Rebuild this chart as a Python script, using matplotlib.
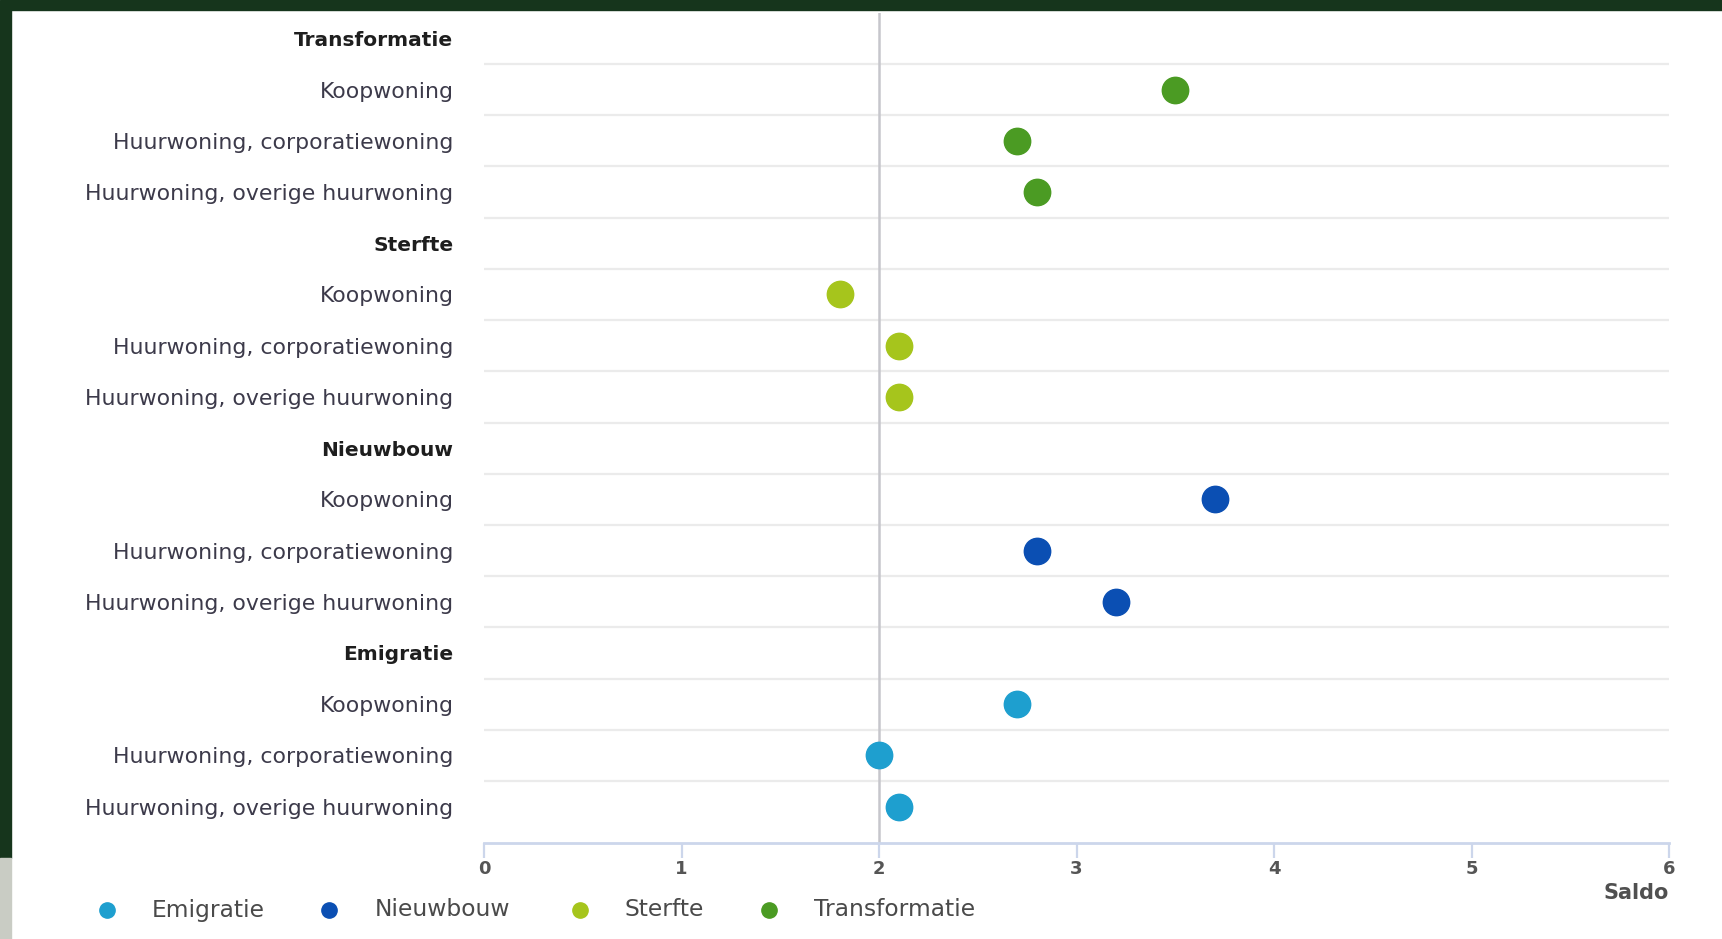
import matplotlib
matplotlib.use("Agg")
import matplotlib.pyplot as plt
from matplotlib.patches import Rectangle
from matplotlib.lines import Line2D

# ── Data ─────────────────────────────────────────────────────────────
groups = ["Transformatie", "Sterfte", "Nieuwbouw", "Emigratie"]
subtypes = ["Koopwoning", "Huurwoning, corporatiewoning", "Huurwoning, overige huurwoning"]
saldo_transformatie = [3.5, 2.7, 2.8]
saldo_sterfte = [1.8, 2.1, 2.1]
saldo_nieuwbouw = [3.7, 2.8, 3.2]
saldo_emigratie = [2.7, 2.0, 2.1]
x_ticks = [0, 1, 2, 3, 4, 5, 6]
legend_order = ["Emigratie", "Nieuwbouw", "Sterfte", "Transformatie"]

colors = {
    "Emigratie": "#1e9fcf",
    "Nieuwbouw": "#0b4fb3",
    "Sterfte": "#a6c51c",
    "Transformatie": "#4b9b23",
}
values = {
    "Transformatie": saldo_transformatie,
    "Sterfte": saldo_sterfte,
    "Nieuwbouw": saldo_nieuwbouw,
    "Emigratie": saldo_emigratie,
}

W, H = 1722, 939
fig = plt.figure(figsize=(W / 100, H / 100), dpi=100, facecolor="white")

# dark frame of the screenshot
fig.patches.append(Rectangle((0, 1 - 10 / H), 1, 10 / H, transform=fig.transFigure,
                             color="#16351c", zorder=0))
fig.patches.append(Rectangle((0, 1 - 858 / H), 11 / W, 848 / H, transform=fig.transFigure,
                             color="#16351c", zorder=0))
fig.patches.append(Rectangle((0, 0), 11 / W, 1 - 858 / H, transform=fig.transFigure,
                             color="#c9ccc4", zorder=0))

ax = fig.add_axes([484 / W, 1 - 843 / H, (1669 - 484) / W, (843 - 12.8) / H])
ax.set_facecolor("none")

# build rows: header then three subtypes per group
row_labels, row_bold = [], []
for g in groups:
    row_labels.append(g)
    row_bold.append(True)
    for s in subtypes:
        row_labels.append(s)
        row_bold.append(False)

n_rows = len(row_labels)
ax.set_ylim(15.71, -0.5)
ax.set_xlim(0, 6)

# grid lines between rows
for i in range(n_rows - 1):
    ax.axhline(i + 0.5, color="#ebebeb", lw=1.6, zorder=1)
ax.axvline(2, color="#c6c6cc", lw=1.8, zorder=1)

# points
for gi, g in enumerate(groups):
    base = gi * 4
    for si, v in enumerate(values[g]):
        ax.plot(v, base + 1 + si, "o", ms=19, color=colors[g],
                markeredgecolor=colors[g], zorder=3, clip_on=False)

# y labels
ax.set_yticks(range(n_rows))
ax.set_yticklabels(row_labels)
for lab, bold in zip(ax.get_yticklabels(), row_bold):
    if bold:
        lab.set_fontsize(14.5)
        lab.set_fontweight("bold")
        lab.set_color("#1e1e1e")
    else:
        lab.set_fontsize(15.8)
        lab.set_color("#3c3a4a")
ax.tick_params(axis="y", length=0, pad=22)

# x axis
ax.set_xticks(x_ticks)
ax.set_xticklabels([str(t) for t in x_ticks], fontsize=13, fontweight="bold", color="#555555")
ax.tick_params(axis="x", length=11, width=1.6, color="#ccd6eb", pad=1)
for side in ["top", "right", "left"]:
    ax.spines[side].set_visible(False)
ax.spines["bottom"].set_color("#ccd6eb")
ax.spines["bottom"].set_linewidth(2)

fig.text(1669 / W, 1 - 893 / H, "Saldo", ha="right", va="center",
         fontsize=15, fontweight="bold", color="#505050")

# legend
leg_marker_x = [107, 329, 580, 769]
leg_text_x = [152, 375, 624, 814]
for name, mx, tx in zip(legend_order, leg_marker_x, leg_text_x):
    fig.add_artist(Line2D([mx / W], [1 - 910 / H], marker="o", ms=11, color=colors[name],
                          transform=fig.transFigure))
    fig.text(tx / W, 1 - 910 / H, name, ha="left", va="center",
             fontsize=16.8, color="#4a4a4a")

fig.savefig("out.png", dpi=100, facecolor=fig.get_facecolor())
